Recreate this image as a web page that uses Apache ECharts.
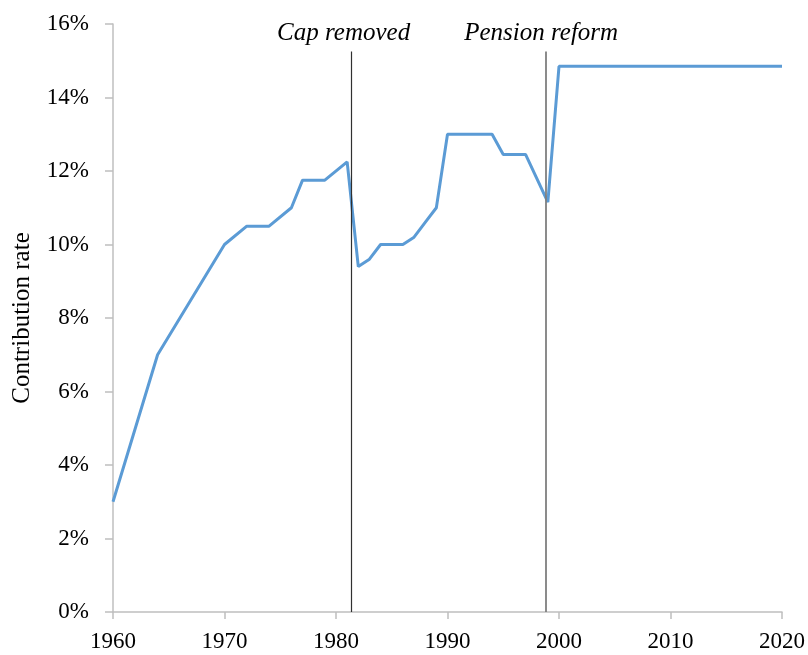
<!DOCTYPE html>
<html>
<head>
<meta charset="utf-8">
<script src="https://cdn.jsdelivr.net/npm/echarts@6/dist/echarts.min.js"></script>
<style>html,body{margin:0;padding:0;background:#fff}#c{width:808px;height:655px}</style>
</head>
<body>
<div id="c"></div>
<script>
const years = [1960,1964,1970,1972,1974,1976,1977,1979,1981,1982,1983,1984,1986,1987,1988,1989,1990,1994,1995,1997,1999,2000,2020];
const rates = [3.0,7.0,10.0,10.5,10.5,11.0,11.75,11.75,12.25,9.4,9.6,10.0,10.0,10.2,10.6,11.0,13.0,13.0,12.45,12.45,11.15,14.85,14.85];
const eventYears = [1981.4, 1998.85];
const eventLabels = ['Cap removed', 'Pension reform'];
const eventLineTop = 15.25;
const yTicks = [0,2,4,6,8,10,12,14,16];

const font = '"Liberation Serif", "DejaVu Serif", serif';
const chart = echarts.init(document.getElementById('c'), null, {renderer:'canvas'});
chart.setOption({
  animation:false,
  backgroundColor:'#fff',
  grid:{left:113, right:26, top:24, bottom:43, containLabel:false, outerBoundsMode:'none'},
  xAxis:{
    type:'value', min:1960, max:2020, interval:10,
    axisLine:{lineStyle:{color:'#bfbfbf', width:1.5}},
    axisTick:{show:true, length:7, lineStyle:{color:'#bfbfbf', width:1.5}},
    splitLine:{show:false},
    axisLabel:{color:'#000', fontFamily:font, fontSize:23, margin:18, formatter:(v)=>String(v)}
  },
  yAxis:{
    type:'value', min:yTicks[0], max:yTicks[yTicks.length-1], interval:2,
    name:'Contribution rate', nameLocation:'middle', nameGap:78,
    nameTextStyle:{color:'#000', fontFamily:font, fontSize:25},
    axisLine:{show:true, lineStyle:{color:'#bfbfbf', width:1.5}},
    axisTick:{show:true, length:8, lineStyle:{color:'#bfbfbf', width:1.5}},
    splitLine:{show:false},
    axisLabel:{color:'#000', fontFamily:font, fontSize:23, margin:24, formatter:'{value}%'}
  },
  series:[{
    type:'line',
    data: years.map((y,i)=>[y, rates[i]]),
    showSymbol:false,
    lineStyle:{color:'#5b9bd5', width:3},
    itemStyle:{color:'#5b9bd5'},
    markLine:{
      silent:true, symbol:['none','none'],
      data: eventYears.map((x,i)=>[
        {coord:[x,0], lineStyle:{color: i===0 ? '#303030' : '#7f7f7f', width: i===0 ? 1.2 : 1.8, type:'solid'},
         label:{show:true, position:'end', formatter:eventLabels[i], color:'#000', fontFamily:font, fontStyle:'italic', fontSize:25, distance:6,
                padding: i===0 ? [0,16,0,0] : [0,10,0,0]}},
        {coord:[x,eventLineTop]}
      ])
    }
  }]
});
</script>
</body>
</html>
